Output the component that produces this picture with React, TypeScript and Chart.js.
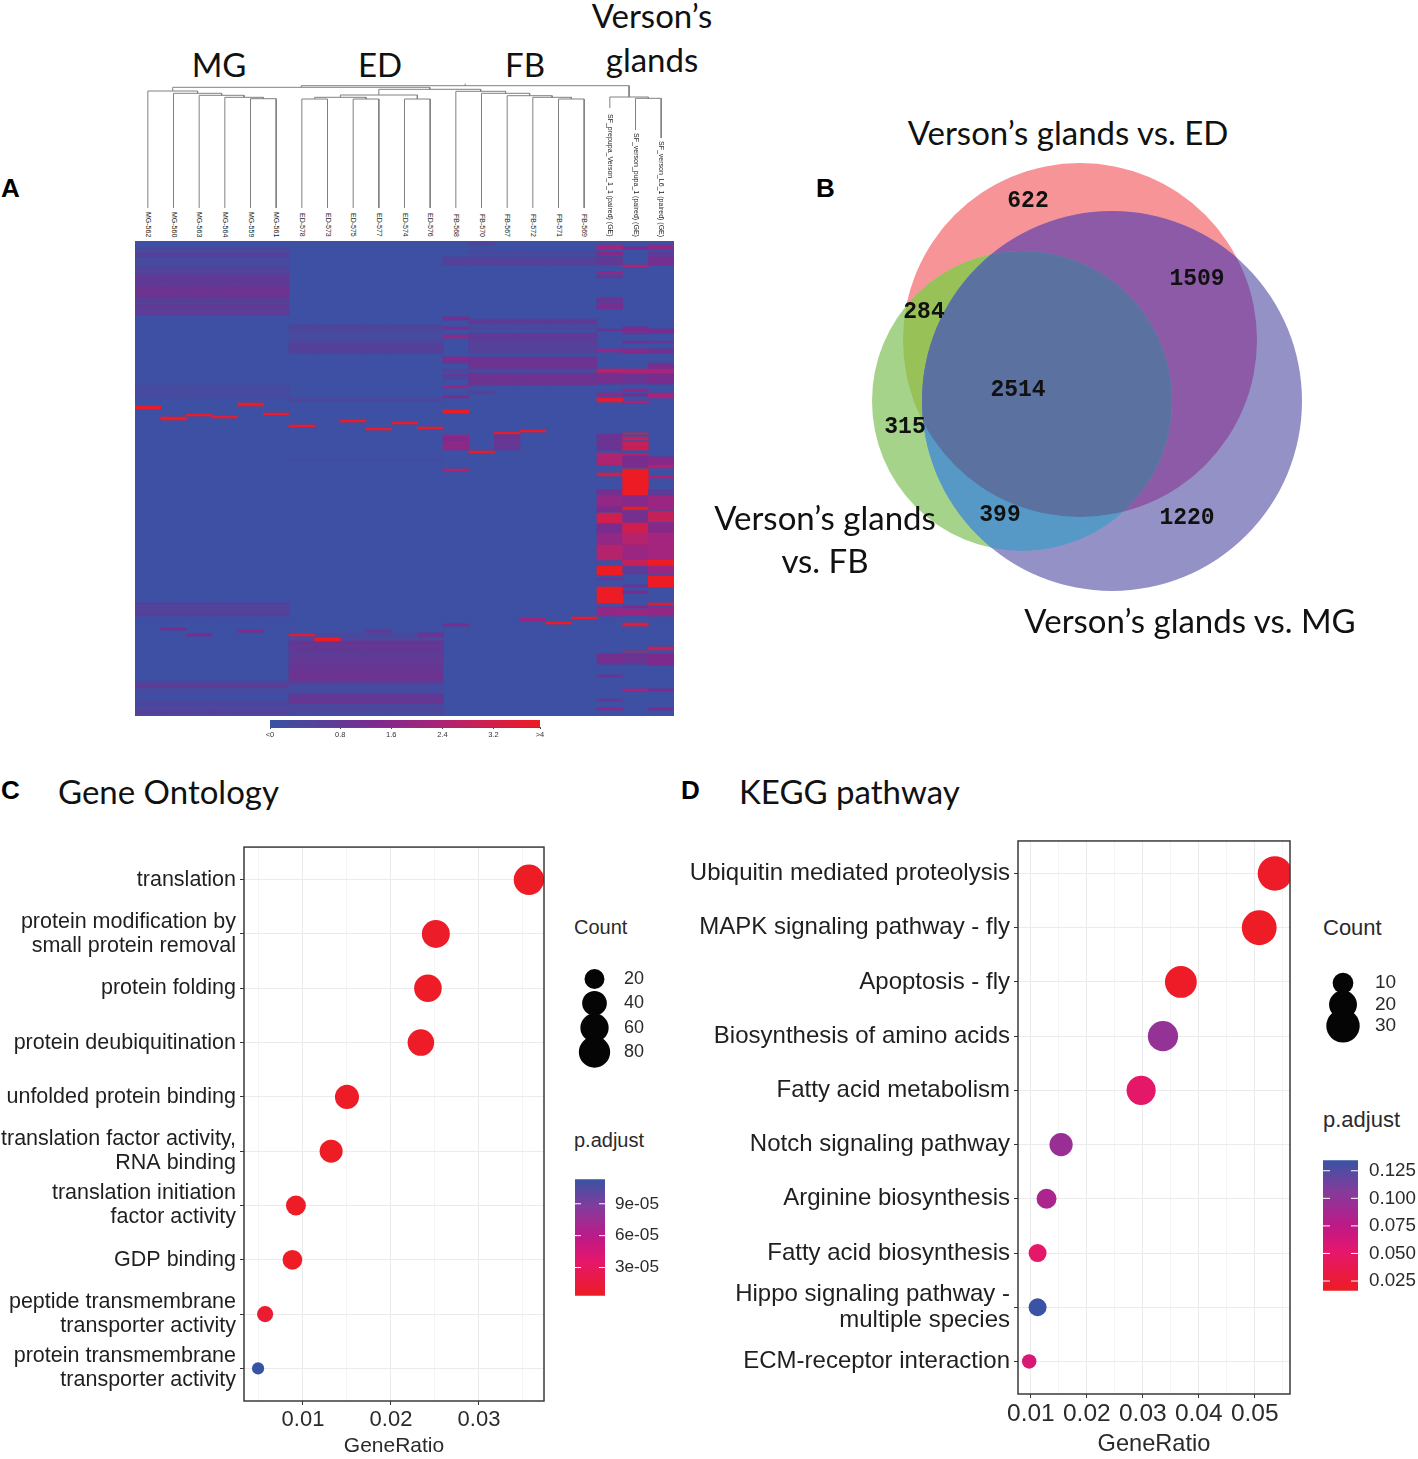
import React, { useEffect, useRef } from "react";
import { Chart, registerables } from "chart.js";

Chart.register(...registerables);

const SANS = "'Liberation Sans', Arial, sans-serif";
const TITLE = "Lato, 'Open Sans', sans-serif";
Chart.defaults.font.family = SANS;

/* ---------- Panel A data ---------- */
const sampleNames = [
  "MG-562", "MG-560", "MG-563", "MG-564", "MG-559", "MG-561",
  "ED-578", "ED-573", "ED-575", "ED-577", "ED-574", "ED-576",
  "FB-568", "FB-570", "FB-567", "FB-572", "FB-571", "FB-569",
  "SF_prepupa_Verson_1_1 (paired) (GE)", "SF_verson_pupa_1 (paired) (GE)", "SF_verson_L6_1 (paired) (GE)",
];
const groupLabels = ["MG", "ED", "FB"];
const heatRows = 475;
const heatBackground = 0.1;
const mgCols = [0, 1, 2, 3, 4, 5];
const edCols = [6, 7, 8, 9, 10, 11];
const fbFirstCol = [12];
const fbRestCols = [13, 14, 15, 16, 17];

const mgBands = [
  [7, 9, 0.5], [9, 12, 0.4], [12, 16, 0.75], [16, 21, 0.3], [21, 26, 0.35], [26, 30, 0.7], [30, 32, 0.4], [32, 36, 0.9],
  [36, 42, 1.0], [42, 45, 0.8], [45, 56, 1.25], [56, 61, 0.85], [61, 64, 0.7], [64, 68, 1.0], [68, 71, 0.7], [71, 74, 0.95],
  [144, 148, 0.35], [148, 152, 0.3], [152, 157, 0.35],
  [362, 364, 0.9], [364, 367, 0.5], [367, 370, 0.7], [370, 372, 0.5], [372, 375, 0.8],
  [440, 443, 0.5], [443, 447, 0.9], [447, 449, 0.4], [449, 454, 0.3], [459, 464, 0.45], [464, 470, 0.5], [470, 473, 0.9],
];
const edBands = [
  [84, 87, 0.6], [87, 91, 0.5], [91, 101, 0.35], [101, 104, 0.6], [104, 110, 0.75], [110, 113, 0.6], [157, 160, 0.5], [217, 219, 0.3],
  [393, 396, 0.5], [396, 400, 0.4], [400, 403, 1.2], [403, 412, 1.0], [412, 416, 0.85], [416, 426, 1.05], [426, 432, 1.15],
  [432, 440, 1.25], [440, 443, 0.85], [443, 448, 0.35], [448, 453, 0.3], [453, 459, 1.0], [459, 463, 1.15], [463, 470, 0.45], [470, 473, 0.5],
];
const fbFirstBands = [
  [16, 24, 0.7], [76, 79, 1.5], [86, 88, 1.5], [94, 97, 2.0], [116, 120, 1.8], [120, 122, 1.0], [128, 130, 0.7], [133, 135, 1.1],
  [135, 138, 0.6], [145, 147, 2.0], [155, 157, 1.4], [194, 196, 2.2], [196, 200, 1.6], [200, 209, 1.9], [228, 230, 2.6], [383, 385, 1.4],
];
const fbRestBands = [
  [10, 13, 0.5], [16, 24, 0.7], [78, 80, 0.8], [80, 83, 1.0], [85, 88, 0.5], [92, 100, 0.95], [100, 112, 0.7],
  [116, 120, 1.3], [120, 128, 1.25], [128, 133, 0.45], [133, 144, 1.25],
];
const versonFirstBands = [
  [4, 8, 2.3], [11, 14, 1.7], [16, 24, 1.0], [31, 33, 2.0], [35, 37, 1.0], [57, 61, 1.2], [62, 68, 1.4], [88, 90, 1.2], [108, 111, 2.0],
  [128, 132, 2.8], [132, 143, 1.4], [152, 155, 2.0], [157, 161, 3.7], [193, 209, 1.2], [212, 224, 2.6], [232, 235, 3.2],
  [249, 254, 1.4], [255, 266, 2.0], [266, 271, 1.5], [272, 282, 3.2], [283, 292, 1.5], [292, 304, 2.0], [304, 319, 2.7],
  [325, 334, 4], [337, 339, 1.1], [346, 362, 4], [366, 375, 2.0], [413, 423, 1.4], [434, 436, 1.2], [458, 460, 1.0], [467, 469, 1.8],
];
const versonSecondBands = [
  [6, 8, 1.6], [24, 26, 2.6], [86, 90, 1.6], [90, 93, 1.2], [100, 102, 1.2], [108, 112, 1.8], [128, 133, 2.6], [133, 143, 1.2],
  [148, 150, 2.0], [153, 155, 1.5], [160, 162, 2.4], [192, 193, 3.9], [196, 199, 3.0], [201, 206, 3.0], [207, 209, 3.2], [213, 215, 2.6],
  [215, 226, 1.5], [228, 254, 4], [255, 266, 1.8], [266, 269, 3.9], [270, 282, 1.4], [282, 292, 3.2], [292, 304, 2.7], [304, 319, 2.2],
  [319, 325, 3.0], [325, 333, 0.9], [344, 346, 1.2], [350, 352, 1.5], [365, 367, 1.6], [368, 374, 2.2], [382, 385, 3.5], [410, 411, 3],
  [413, 423, 1.2], [448, 450, 2.4],
];
const versonThirdBands = [
  [4, 8, 2.0], [11, 16, 0.9], [16, 24, 1.4], [88, 92, 1.5], [100, 102, 1.1], [108, 112, 1.4], [122, 128, 1.4], [128, 132, 2.4],
  [133, 143, 1.5], [152, 157, 2.4], [216, 226, 1.8], [224, 227, 2.5], [235, 237, 2.5], [249, 254, 0.9], [255, 268, 2.2], [270, 281, 3.0],
  [282, 292, 1.8], [292, 304, 2.4], [304, 319, 2.4], [319, 325, 4], [325, 333, 2.2], [335, 346, 4], [362, 364, 3.5], [366, 375, 2.0],
  [406, 409, 3], [413, 424, 1.6], [448, 450, 1.6], [467, 469, 1.5],
];
// column, start row, end row, value
const singleCells = [
  [0, 165, 168, 3.9], [1, 176, 179, 3.9], [2, 173, 175, 3.8], [3, 175, 177, 3.7], [4, 162, 165, 3.9], [5, 172, 174, 3.8],
  [6, 184, 186, 3.9], [8, 179, 181, 3.9], [9, 187, 189, 3.8], [10, 181, 183, 3.9], [11, 186, 188, 3.8],
  [12, 169, 172, 4], [13, 210, 212, 3.9], [14, 191, 193, 3.8], [15, 189, 191, 3.8], [16, 381, 383, 4], [17, 376, 378, 3.9],
  [13, 2, 4, 0.8], [13, 150, 153, 0.7], [14, 194, 198, 1.2], [14, 198, 209, 1.1], [15, 377, 380, 2.2],
  [6, 393, 395, 3.6], [7, 397, 400, 4], [9, 389, 392, 0.9], [11, 392, 396, 1.2], [1, 387, 389, 1.5], [4, 389, 391, 1.8], [2, 393, 395, 1.5],
];
const heatStops = [
  [0, 57, 83, 164], [0.8, 88, 62, 152], [1.6, 125, 42, 140], [2.4, 164, 37, 125], [3.2, 207, 31, 78], [4, 237, 28, 36],
];
const heatTickValues = [-0.3, 0.8, 1.6, 2.4, 3.2, 3.93];
const heatTickLabels = ["<0", "0.8", "1.6", "2.4", "3.2", ">4"];

// [left node, right node, height]; negative = leaf number, positive = earlier merge number
const dendroMerges = [
  [-5, -6, 109.3], [-4, 1, 110.7], [-3, 2, 112.7], [-2, 3, 114.7], [-1, 4, 117],
  [-7, -8, 109], [-9, -10, 109], [6, 7, 110.7], [-11, -12, 109], [8, 9, 113],
  [-17, -18, 109], [-16, 11, 110.7], [-15, 12, 112.3], [-14, 13, 114.7], [-13, 14, 116.7],
  [10, 15, 118.7], [5, 16, 120.7], [-20, -21, 109.7], [-19, 18, 111], [17, 19, 122.3],
];
const leafBase = [0, 0, 0, 0, 0, 0, 0, 0, 0, 0, 0, 0, 0, 0, 0, 0, 0, 0, 100, 78, 70];

/* ---------- Panel B data ---------- */
const vennSets = [
  { name: "Verson’s glands vs. ED", x: 1080, y: 340, size: 177 },
  { name: "Verson’s glands vs. FB", x: 1022, y: 401, size: 150 },
  { name: "Verson’s glands vs. MG", x: 1112, y: 401, size: 190 },
];
const vennColors = ["#f69497", "#a6d38a", "#9491c7"];
const vennOverlaps = [
  { sets: [0, 1], color: "#98c157" },
  { sets: [0, 2], color: "#8c5aa6" },
  { sets: [1, 2], color: "#5698c6" },
  { sets: [0, 1, 2], color: "#5b72a0" },
];
const vennCounts = [
  ["622", 1028, 201], ["1509", 1197, 279], ["284", 924, 312], ["2514", 1018, 390], ["315", 905, 427], ["399", 1000, 515], ["1220", 1187, 518],
];

/* ---------- Panel C data ---------- */
const goTerms = [
  "translation", ["protein modification by", "small protein removal"], "protein folding", "protein deubiquitination",
  "unfolded protein binding", ["translation factor activity,", "RNA binding"], ["translation initiation", "factor activity"],
  "GDP binding", ["peptide transmembrane", "transporter activity"], ["protein transmembrane", "transporter activity"],
];
const goRatio = [0.03568, 0.0251, 0.0242, 0.0234, 0.015, 0.0132, 0.0092, 0.0088, 0.0057, 0.0049];
const goCount = [74, 58, 56, 50, 37, 32, 20, 19, 9, 2];
const goPadj = [0.4e-5, 0.6e-5, 0.5e-5, 0.5e-5, 0.5e-5, 0.4e-5, 0.5e-5, 0.4e-5, 1e-5, 11.3e-5];
const goTicks = [0.005, 0.01, 0.015, 0.02, 0.025, 0.03, 0.035];
const goCountLegend = [20, 40, 60, 80];
const goPadjTicks = [3e-5, 6e-5, 9e-5];

/* ---------- Panel D data ---------- */
const keggTerms = [
  "Ubiquitin mediated proteolysis", "MAPK signaling pathway - fly", "Apoptosis - fly", "Biosynthesis of amino acids",
  "Fatty acid metabolism", "Notch signaling pathway", "Arginine biosynthesis", "Fatty acid biosynthesis",
  ["Hippo signaling pathway -", "multiple species"], "ECM-receptor interaction",
];
const keggRatio = [0.0536, 0.0508, 0.0368, 0.0336, 0.0297, 0.0154, 0.0128, 0.0112, 0.0112, 0.0097];
const keggCount = [32, 33, 27, 24, 22, 13, 9, 7, 7, 4];
const keggPadj = [0.018, 0.0165, 0.017, 0.098, 0.05, 0.095, 0.085, 0.05, 0.134, 0.06];
const keggTicks = [0.01, 0.015, 0.02, 0.025, 0.03, 0.035, 0.04, 0.045, 0.05, 0.055];
const keggCountLegend = [10, 20, 30];
const keggPadjTicks = [0.025, 0.05, 0.075, 0.1, 0.125];
const padjStops = [
  [0, 237, 28, 36], [0.3, 229, 23, 108], [0.5, 190, 25, 135], [0.75, 135, 58, 155], [1, 57, 83, 164],
];

/* ---------- helpers ---------- */
function interp(stops: number[][], v: number) {
  const lo = stops[0][0], hi = stops[stops.length - 1][0];
  const t = Math.min(hi, Math.max(lo, v));
  for (let i = 1; i < stops.length; i++) {
    if (t <= stops[i][0]) {
      const a = stops[i - 1], b = stops[i], f = (t - a[0]) / (b[0] - a[0]);
      return `rgb(${[1, 2, 3].map((k) => Math.round(a[k] + (b[k] - a[k]) * f)).join(",")})`;
    }
  }
  return "rgb(0,0,0)";
}
const baseOptions = () => ({
  responsive: false,
  maintainAspectRatio: false,
  animation: false,
  devicePixelRatio: 1,
  events: [],
  layout: { padding: 0, autoPadding: false },
  plugins: { legend: { display: false }, tooltip: { enabled: false } },
});
const framePlugin = {
  id: "frame",
  afterDraw(chart: any) {
    const { ctx, chartArea: a } = chart;
    ctx.save();
    ctx.strokeStyle = "#3a3a3a";
    ctx.lineWidth = 1.5;
    ctx.strokeRect(a.left, a.top, a.right - a.left, a.bottom - a.top);
    ctx.restore();
  },
};
const colorbarTicks = {
  id: "colorbarTicks",
  afterDatasetsDraw(chart: any) {
    const { ctx, chartArea: a } = chart;
    const scale = chart.scales.y;
    const w = a.right - a.left;
    ctx.save();
    ctx.strokeStyle = "#ffffff";
    ctx.lineWidth = 1;
    scale.ticks.forEach((t: any) => {
      const y = scale.getPixelForValue(t.value);
      ctx.beginPath();
      ctx.moveTo(a.left, y); ctx.lineTo(a.left + w / 5, y);
      ctx.moveTo(a.right - w / 5, y); ctx.lineTo(a.right, y);
      ctx.stroke();
    });
    ctx.restore();
  },
};
const vennPlugin = {
  id: "vennOverlaps",
  afterDatasetsDraw(chart: any) {
    const { ctx } = chart;
    const pts = chart.getDatasetMeta(0).data;
    const path = (i: number) => {
      ctx.beginPath();
      ctx.arc(pts[i].x, pts[i].y, pts[i].options.radius, 0, Math.PI * 2);
    };
    vennOverlaps.forEach((o) => {
      ctx.save();
      o.sets.slice(0, -1).forEach((i) => { path(i); ctx.clip(); });
      path(o.sets[o.sets.length - 1]);
      ctx.fillStyle = o.color;
      ctx.fill();
      ctx.restore();
    });
  },
};

/* ---------- chart configs ---------- */
function heatConfig() {
  const makeBand = (cols: number[], band: number[]) => {
    const data = sampleNames.map((_, c) => (cols.includes(c) ? [band[0], band[1]] : null));
    return { data, backgroundColor: interp(heatStops, band[2]), borderWidth: 0 };
  };
  const datasets: any[] = [makeBand(sampleNames.map((_, i) => i), [0, heatRows, heatBackground])];
  ([
    [mgCols, mgBands], [edCols, edBands], [fbFirstCol, fbFirstBands], [fbRestCols, fbRestBands],
    [[18], versonFirstBands], [[19], versonSecondBands], [[20], versonThirdBands],
  ] as any[]).forEach(([cols, bands]) => bands.forEach((b: number[]) => datasets.push(makeBand(cols, b))));
  singleCells.forEach(([c, s, e, v]) => datasets.push(makeBand([c], [s, e, v])));
  // Chart.js paints the first dataset last, so the background goes at the end.
  datasets.reverse();
  return {
    type: "bar",
    data: { labels: sampleNames, datasets },
    options: {
      ...baseOptions(),
      datasets: { bar: { grouped: false, barPercentage: 1, categoryPercentage: 1 } },
      scales: {
        x: { display: false },
        y: { display: false, min: 0, max: heatRows, reverse: true },
      },
    },
  };
}
function dendroConfig() {
  const nodes: { x: number; y: number }[] = [];
  const get = (n: number) => (n < 0 ? { x: -n - 0.5, y: leafBase[-n - 1] } : nodes[n - 1]);
  const datasets: any[] = dendroMerges.map(([a, b, h]) => {
    const l = get(a), r = get(b);
    nodes.push({ x: (l.x + r.x) / 2, y: h });
    return { data: [{ x: l.x, y: l.y }, { x: l.x, y: h }, { x: r.x, y: h }, { x: r.x, y: r.y }] };
  });
  const root = nodes[nodes.length - 1];
  datasets.push({ data: [{ x: root.x, y: root.y }, { x: root.x, y: root.y + 2 }] });
  datasets.forEach((d) => Object.assign(d, { showLine: true, pointRadius: 0, borderColor: "#808080", borderWidth: 1, tension: 0, clip: false }));
  return {
    type: "scatter",
    data: { datasets },
    options: {
      ...baseOptions(),
      scales: {
        x: { display: false, min: 0, max: sampleNames.length },
        y: { display: false, min: 0, max: 128 },
      },
    },
  };
}
function heatBarConfig() {
  return {
    type: "bar",
    data: {
      labels: ["value"],
      datasets: [{
        data: [[heatTickValues[0], heatTickValues[5]]],
        borderWidth: 0,
        backgroundColor: (c: any) => {
          const a = c.chart.chartArea;
          if (!a) return "#3953a4";
          const g = c.chart.ctx.createLinearGradient(a.left, 0, a.right, 0);
          heatStops.forEach((s) => g.addColorStop(s[0] / 4, interp(heatStops, s[0])));
          return g;
        },
      }],
    },
    options: {
      ...baseOptions(),
      indexAxis: "y",
      layout: { padding: { left: 15, right: 15 }, autoPadding: false },
      datasets: { bar: { barPercentage: 1, categoryPercentage: 1 } },
      scales: {
        y: { display: false },
        x: {
          min: heatTickValues[0], max: heatTickValues[5],
          afterBuildTicks: (s: any) => { s.ticks = heatTickValues.map((value) => ({ value })); },
          afterFit: (s: any) => { s.height = 14; },
          grid: { drawOnChartArea: false, tickLength: 2, tickColor: "#444" },
          border: { color: "#555" },
          ticks: {
            padding: 1, autoSkip: false, maxRotation: 0, color: "#333", font: { size: 7.5 },
            callback: (_: any, i: number) => heatTickLabels[i],
          },
        },
      },
    },
  };
}
function vennConfig() {
  return {
    type: "bubble",
    data: {
      datasets: [{
        data: vennSets.map((s) => ({ x: s.x, y: s.y, r: s.size })),
        backgroundColor: vennColors,
        borderWidth: 0,
        clip: false,
      }],
    },
    options: {
      ...baseOptions(),
      scales: {
        x: { display: false, min: 860, max: 1310 },
        y: { display: false, min: 155, max: 600, reverse: true },
      },
    },
    plugins: [vennPlugin],
  };
}
const goRadius = (n: number) => 4.3 + 1.27 * Math.sqrt(n);
const keggRadius = (n: number) => 1.8 + 2.72 * Math.sqrt(n);

function dotConfig(p: any) {
  const isMajor = (v: number) => Math.abs(v * 100 - Math.round(v * 100)) < 1e-6;
  return {
    type: "bubble",
    data: {
      datasets: [{
        data: p.ratio.map((x: number, i: number) => ({ x, y: i, r: p.radius(p.count[i]) })),
        backgroundColor: p.padj.map((v: number) => interp(padjStops, (v - p.padjMin) / (p.padjMax - p.padjMin))),
        borderWidth: 0,
        clip: 0,
      }],
    },
    options: {
      ...baseOptions(),
      layout: { padding: { top: 10, right: 6 }, autoPadding: false },
      scales: {
        x: {
          min: p.xMin, max: p.xMax,
          afterBuildTicks: (s: any) => { s.ticks = p.ticks.map((value: number) => ({ value })); },
          afterFit: (s: any) => { s.height = p.xHeight; },
          border: { display: false },
          grid: {
            color: (c: any) => (c.tick && isMajor(c.tick.value) ? "#ebebeb" : "#f4f4f4"),
            tickColor: (c: any) => (c.tick && isMajor(c.tick.value) ? "#333" : "rgba(0,0,0,0)"),
            tickLength: 4,
          },
          ticks: {
            autoSkip: false, maxRotation: 0, color: "#2a2a2a", padding: p.xPad, font: { size: p.xFont },
            callback: (v: number) => (isMajor(v) ? v.toFixed(2) : ""),
          },
          title: { display: true, text: "GeneRatio", color: "#2a2a2a", font: { size: p.titleFont }, padding: { top: 0, bottom: p.titleBottom } },
        },
        y: {
          min: -0.6, max: 9.6, reverse: true,
          afterBuildTicks: (s: any) => { s.ticks = p.terms.map((_: any, i: number) => ({ value: i })); },
          afterFit: (s: any) => { s.width = p.yWidth; },
          border: { display: false },
          grid: { color: "#ebebeb", tickColor: "#333", tickLength: 4 },
          ticks: {
            autoSkip: false, color: "#1f1f1f", padding: 4, font: { size: p.yFont, lineHeight: p.yLine },
            callback: (_: any, i: number) => p.terms[i],
          },
        },
      },
    },
    plugins: [framePlugin],
  };
}
function sizeLegendConfig(p: any) {
  return {
    type: "bubble",
    data: {
      datasets: [{
        data: p.values.map((v: number, i: number) => ({ x: 0, y: i, r: p.radius(v) })),
        backgroundColor: "#050505", borderWidth: 0, clip: false,
      }],
    },
    options: {
      ...baseOptions(),
      scales: {
        x: { display: false, min: -1, max: 1 },
        y: {
          position: "right", min: -0.5, max: p.values.length - 0.5, reverse: true,
          afterBuildTicks: (s: any) => { s.ticks = p.values.map((_: number, i: number) => ({ value: i })); },
          afterFit: (s: any) => { s.width = p.axis; },
          border: { display: false },
          grid: { display: false, drawTicks: false },
          ticks: {
            color: "#2a2a2a", padding: p.pad, font: { size: p.font },
            callback: (_: any, i: number) => String(p.values[i]),
          },
        },
      },
    },
  };
}
function colorbarConfig(p: any) {
  return {
    type: "bar",
    data: {
      labels: ["p.adjust"],
      datasets: [{
        data: [[p.min, p.max]],
        borderWidth: 0,
        backgroundColor: (c: any) => {
          const a = c.chart.chartArea;
          if (!a) return "#ed1c24";
          const g = c.chart.ctx.createLinearGradient(0, a.bottom, 0, a.top);
          padjStops.forEach((s) => g.addColorStop(s[0], interp(padjStops, s[0])));
          return g;
        },
      }],
    },
    options: {
      ...baseOptions(),
      datasets: { bar: { barPercentage: 1, categoryPercentage: 1 } },
      scales: {
        x: { display: false },
        y: {
          position: "right", min: p.min, max: p.max,
          afterBuildTicks: (s: any) => { s.ticks = p.ticks.map((value: number) => ({ value })); },
          afterFit: (s: any) => { s.width = p.axis; },
          border: { display: false },
          grid: { display: false, drawTicks: false },
          ticks: { color: "#2a2a2a", padding: p.pad, font: { size: p.font }, callback: p.format },
        },
      },
    },
    plugins: [colorbarTicks],
  };
}

/* ---------- components ---------- */
function Plot({ left, top, width, height, config }: any) {
  const ref = useRef<HTMLCanvasElement>(null);
  useEffect(() => {
    const chart = new Chart(ref.current as any, config() as any);
    return () => chart.destroy();
  }, []);
  return <canvas ref={ref} width={width} height={height} style={{ position: "absolute", left, top, width, height, display: "block" }} />;
}
function Txt({ x, y, size, font = SANS, weight = 400, anchor = "center", color = "#111", children, spacing }: any) {
  const tx = anchor === "center" ? "-50%" : "0";
  return (
    <div style={{
      position: "absolute", left: x, top: y, transform: `translate(${tx},-50%)`, fontFamily: font, fontSize: size,
      fontWeight: weight, color, lineHeight: 1, whiteSpace: "nowrap", letterSpacing: spacing,
    }}>{children}</div>
  );
}

const colWidth = 539 / 21;
const versonLabelHeights = [126, 105, 97];

export default function App() {
  return (
    <div style={{ position: "absolute", left: 0, top: 0, width: 1418, height: 1459, background: "#fff", overflow: "hidden" }}>
      {/* Panel A */}
      <Txt x={1} y={188} size={26} weight={700} anchor="left" color="#000">A</Txt>
      <Txt x={219} y={64} size={33} font={TITLE}>{groupLabels[0]}</Txt>
      <Txt x={380} y={64} size={33} font={TITLE}>{groupLabels[1]}</Txt>
      <Txt x={525} y={64} size={33} font={TITLE}>{groupLabels[2]}</Txt>
      <Txt x={652} y={15} size={33} font={TITLE}>Verson’s</Txt>
      <Txt x={652} y={59} size={33} font={TITLE}>glands</Txt>
      <Plot left={135} top={80} width={539} height={128} config={dendroConfig} />
      {sampleNames.map((name, i) => {
        const h = i >= 18 ? versonLabelHeights[i - 18] : 28;
        return (
          <div key={name} style={{
            position: "absolute", left: 135 + (i + 0.5) * colWidth - 4, top: 237 - h, height: h, width: 8,
            writingMode: "vertical-rl", fontFamily: SANS, fontSize: 7, lineHeight: "8px", whiteSpace: "nowrap",
            color: "#222", textAlign: "right",
          }}>{name}</div>
        );
      })}
      <Plot left={135} top={241} width={539} height={475} config={heatConfig} />
      <Plot left={255} top={720} width={300} height={21} config={heatBarConfig} />

      {/* Panel B */}
      <Txt x={816} y={188} size={26} weight={700} anchor="left" color="#000">B</Txt>
      <Plot left={860} top={155} width={450} height={445} config={vennConfig} />
      {vennCounts.map(([label, x, y]) => (
        <Txt key={label as string} x={x} y={y} size={23} font="'Liberation Mono', monospace" weight={700} color="#111">{label}</Txt>
      ))}
      <Txt x={1068} y={132} size={33} font={TITLE}>{vennSets[0].name}</Txt>
      <Txt x={825} y={517} size={33} font={TITLE}>Verson’s glands</Txt>
      <Txt x={825} y={560} size={33} font={TITLE}>vs. FB</Txt>
      <Txt x={1190} y={620} size={33} font={TITLE}>{vennSets[2].name}</Txt>

      {/* Panel C */}
      <Txt x={1} y={790} size={26} weight={700} anchor="left" color="#000">C</Txt>
      <Txt x={58} y={791} size={33} font={TITLE} anchor="left">Gene Ontology</Txt>
      <Plot left={0} top={819} width={550} height={640} config={() => dotConfig({
        terms: goTerms, ratio: goRatio, count: goCount, padj: goPadj, radius: goRadius, padjMin: 0.35e-5, padjMax: 11.3e-5,
        ticks: goTicks, xMin: 0.0033, xMax: 0.03739, xHeight: 58, xPad: 2, xFont: 22, titleFont: 21, titleBottom: 0,
        yWidth: 244, yFont: 21.5, yLine: 1.12,
      })} />
      <Txt x={574} y={927} size={20} anchor="left" color="#2a2a2a">Count</Txt>
      <Plot left={575} top={945.7} width={75} height={139} config={() => sizeLegendConfig({ values: goCountLegend, radius: goRadius, axis: 36, pad: 10, font: 18 })} />
      <Txt x={574} y={1140} size={20} anchor="left" color="#2a2a2a">p.adjust</Txt>
      <Plot left={575} top={1159} width={90} height={157} config={() => colorbarConfig({
        min: 0.35e-5, max: 11.3e-5, ticks: goPadjTicks, axis: 60, pad: 10, font: 17.2,
        format: (v: number) => `${Math.round(v * 1e5)}e-05`,
      })} />

      {/* Panel D */}
      <Txt x={681} y={790} size={26} weight={700} anchor="left" color="#000">D</Txt>
      <Txt x={739} y={791} size={33} font={TITLE} anchor="left">KEGG pathway</Txt>
      <Plot left={640} top={824} width={656} height={635} config={() => dotConfig({
        terms: keggTerms, ratio: keggRatio, count: keggCount, padj: keggPadj, radius: keggRadius, padjMin: 0.0162, padjMax: 0.1345,
        ticks: keggTicks, xMin: 0.0077, xMax: 0.0563, xHeight: 65, xPad: 2, xFont: 24.5, titleFont: 23.6, titleBottom: 0,
        yWidth: 378, yFont: 24, yLine: 1.08,
      })} />
      <Txt x={1323} y={928} size={22} anchor="left" color="#2a2a2a">Count</Txt>
      <Plot left={1323} top={948.5} width={87} height={111} config={() => sizeLegendConfig({ values: keggCountLegend, radius: keggRadius, axis: 47, pad: 12, font: 19 })} />
      <Txt x={1323} y={1120} size={22} anchor="left" color="#2a2a2a">p.adjust</Txt>
      <Plot left={1323} top={1138} width={95} height={175} config={() => colorbarConfig({
        min: 0.0162, max: 0.1345, ticks: keggPadjTicks, axis: 60, pad: 11, font: 18.8,
        format: (v: number) => v.toFixed(3),
      })} />
    </div>
  );
}
